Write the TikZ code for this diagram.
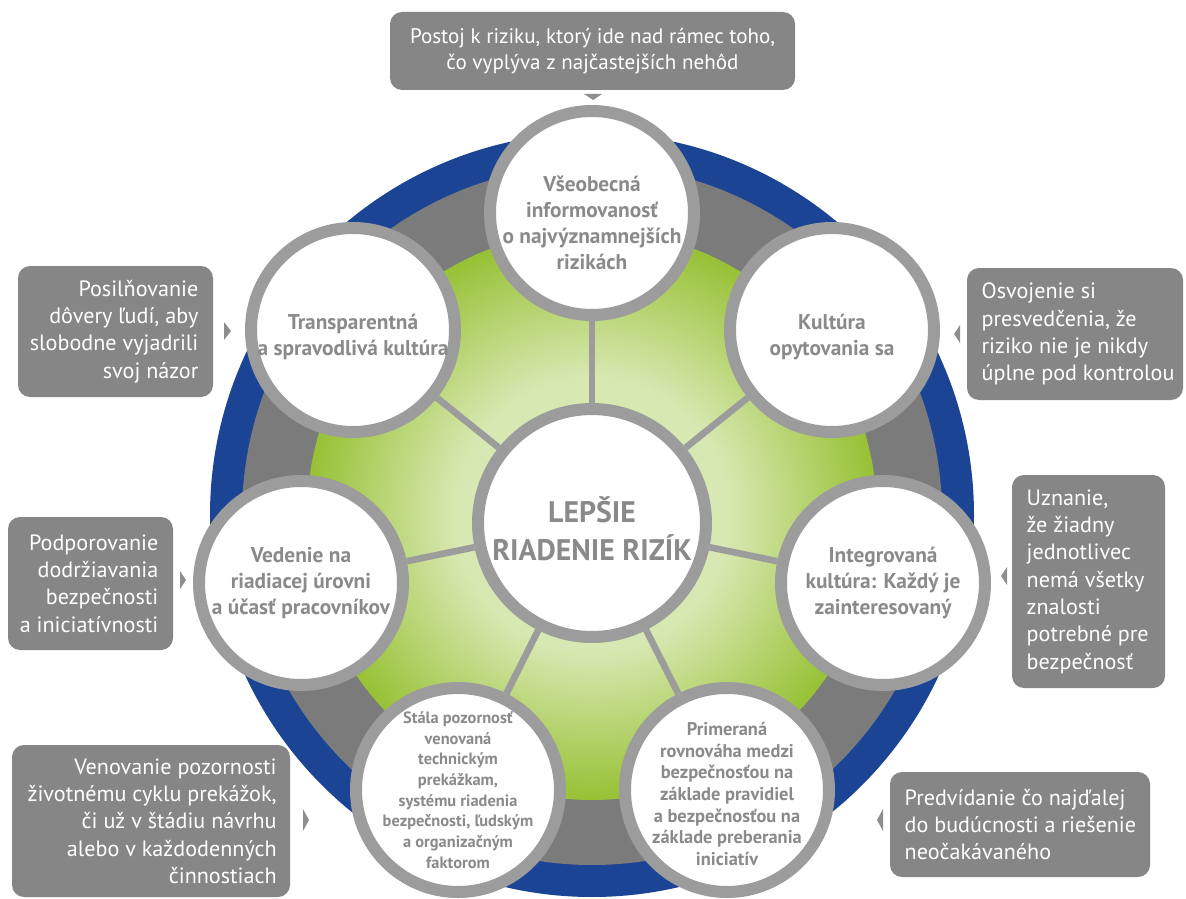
\documentclass[tikz,border=0pt]{standalone}
\usepackage{fontspec}
\setmainfont{PT Sans}
\usepackage{tikz}

\definecolor{ringblue}{HTML}{1B4495}
\definecolor{ringgray}{HTML}{7B7B7B}
\definecolor{rimgray}{HTML}{9C9C9C}
\definecolor{labelgray}{HTML}{8A8A8A}
\definecolor{boxgray}{HTML}{868686}
\definecolor{tipgray}{HTML}{8E8E8E}
\definecolor{greenin}{HTML}{D8E8B2}
\definecolor{greenout}{HTML}{97C135}

\pgfdeclareradialshading{greenglow}{\pgfpoint{0bp}{0bp}}{color(0bp)=(greenin); color(12bp)=(greenin); color(25bp)=(greenout); color(50bp)=(greenout)}

\tikzset{
  sat/.style={circle, draw=rimgray, line width=9pt, fill=white, minimum size=153pt, inner sep=0pt},
  hub/.style={sat, minimum size=171pt},
  sattext/.style={text=labelgray, align=center, inner sep=0pt,
    font=\fontsize{16}{19.5}\selectfont\bfseries},
  satsmall/.style={sattext, font=\fontsize{12.3}{15.5}\selectfont\bfseries},
  satmid/.style={sattext, font=\fontsize{13.8}{16.2}\selectfont\bfseries},
  hubtext/.style={sattext, font=\fontsize{22.3}{28.5}\selectfont\bfseries},
  spoke/.style={draw=rimgray, line width=5pt},
  notebox/.style={rectangle, rounded corners=9pt, fill=boxgray, inner sep=0pt},
  notetext/.style={text=white, inner sep=0pt, font=\fontsize{16.6}{20.5}\selectfont},
  tip/.style={fill=tipgray},
}

\begin{document}
\begin{tikzpicture}[x=0.75pt,y=-0.75pt]
\useasboundingbox (0,0) rectangle (1186,899);
\clip (0,0) rectangle (1186,899);
\fill[white] (0,0) rectangle (1186,899);
\coordinate (o) at (592,515);

% rings
\fill[ringblue] (o) circle[radius=286.5pt];
\fill[ringgray] (o) circle[radius=262.5pt];
\shade[shading=greenglow] (o) circle[radius=213.75pt];

% hub and satellites
\node[hub] (hub) at (592,523) {};
\node[sat] (s1) at (592,213) {};
\node[sat] (s2) at (353,330) {};
\node[sat] (s3) at (832,330) {};
\node[sat] (s4) at (301,583) {};
\node[sat] (s5) at (883,583) {};
\node[sat] (s6) at (458,790) {};
\node[sat] (s7) at (727,790) {};

% spokes
\foreach \i in {1,...,7}
  \draw[spoke] (hub) -- (s\i);

% circle texts
\node[hubtext, yshift=-4.5pt] (hubt) at (hub) {LEPŠIE\\RIADENIE RIZÍK};
\node[sattext, yshift=-7.5pt] (s1t) at (s1) {Všeobecná\\informovanosť\\o najvýznamnejších\\rizikách};
\node[sattext, yshift=-5.25pt] (s2t) at (s2) {Transparentná\\a spravodlivá kultúra};
\node[sattext, yshift=-5.25pt] (s3t) at (s3) {Kultúra\\opytovania sa};
\node[sattext] (s4t) at (s4) {Vedenie na\\riadiacej úrovni\\a účasť pracovníkov};
\node[sattext] (s5t) at (s5) {Integrovaná\\kultúra: Každý je\\zainteresovaný};
\node[satsmall] (s6t) at (s6) {Stála pozornosť\\venovaná\\technickým\\prekážkam,\\systému riadenia\\bezpečnosti, ľudským\\a organizačným\\faktorom};
\node[satmid, yshift=-3pt] (s7t) at (s7) {Primeraná\\rovnováha medzi\\bezpečnosťou na\\základe pravidiel\\a bezpečnosťou na\\základe preberania\\iniciatív};

% notes
\node[notebox, minimum width=303.75pt, minimum height=58.5pt] (b1) at (592.5,51) {};
\node[notetext, align=center, font=\fontsize{15.8}{19}\selectfont] (b1t) at (b1.center) {Postoj k riziku, ktorý ide nad rámec toho,\\čo vyplýva z najčastejších nehôd};
\fill[tip] (584,94) -- (602,94) -- (593,100) -- cycle;

\node[notebox, minimum width=146.25pt, minimum height=98.25pt] (b2) at (115.5,331.5) {};
\node[notetext, align=right, anchor=east] (b2t) at ([xshift=-11pt]b2.east) {Posilňovanie\\dôvery ľudí, aby\\slobodne vyjadrili\\svoj názor};
\fill[tip] (224,322) -- (231,331) -- (224,340) -- cycle;

\node[notebox, minimum width=162pt, minimum height=99pt] (b3) at (1075,334) {};
\node[notetext, align=left, anchor=west] (b3t) at ([xshift=11pt]b3.west) {Osvojenie si\\presvedčenia, že\\riziko nie je nikdy\\úplne pod kontrolou};
\fill[tip] (960,325) -- (954,334) -- (960,343) -- cycle;

\node[notebox, minimum width=114.75pt, minimum height=159.75pt] (b4) at (1088.5,581.5) {};
\node[notetext, align=left, anchor=west] (b4t) at ([xshift=11pt]b4.west) {Uznanie,\\že žiadny\\jednotlivec\\nemá všetky\\znalosti\\potrebné pre\\bezpečnosť};
\fill[tip] (1007,567) -- (1001,576) -- (1007,585) -- cycle;

\node[notebox, minimum width=123.75pt, minimum height=99.75pt] (b5) at (90.5,583.5) {};
\node[notetext, align=right, anchor=east] (b5t) at ([xshift=-11pt]b5.east) {Podporovanie\\dodržiavania\\bezpečnosti\\a iniciatívnosti};
\fill[tip] (180,571) -- (186,580) -- (180,589) -- cycle;

\node[notebox, minimum width=208.5pt, minimum height=114pt] (b6) at (151,821) {};
\node[notetext, align=right, anchor=east] (b6t) at ([xshift=-10pt]b6.east) {Venovanie pozornosti\\životnému cyklu prekážok,\\či už v štádiu návrhu\\alebo v každodenných\\činnostiach};
\fill[tip] (303,809) -- (309,820) -- (303,831) -- cycle;

\node[notebox, minimum width=195pt, minimum height=78.75pt] (b7) at (1020,824.5) {};
\node[notetext, align=left, anchor=west] (b7t) at ([xshift=11pt]b7.west) {Predvídanie čo najďalej\\do budúcnosti a riešenie\\neočakávaného};
\fill[tip] (883,809) -- (877,820) -- (883,831) -- cycle;
\end{tikzpicture}
\end{document}
